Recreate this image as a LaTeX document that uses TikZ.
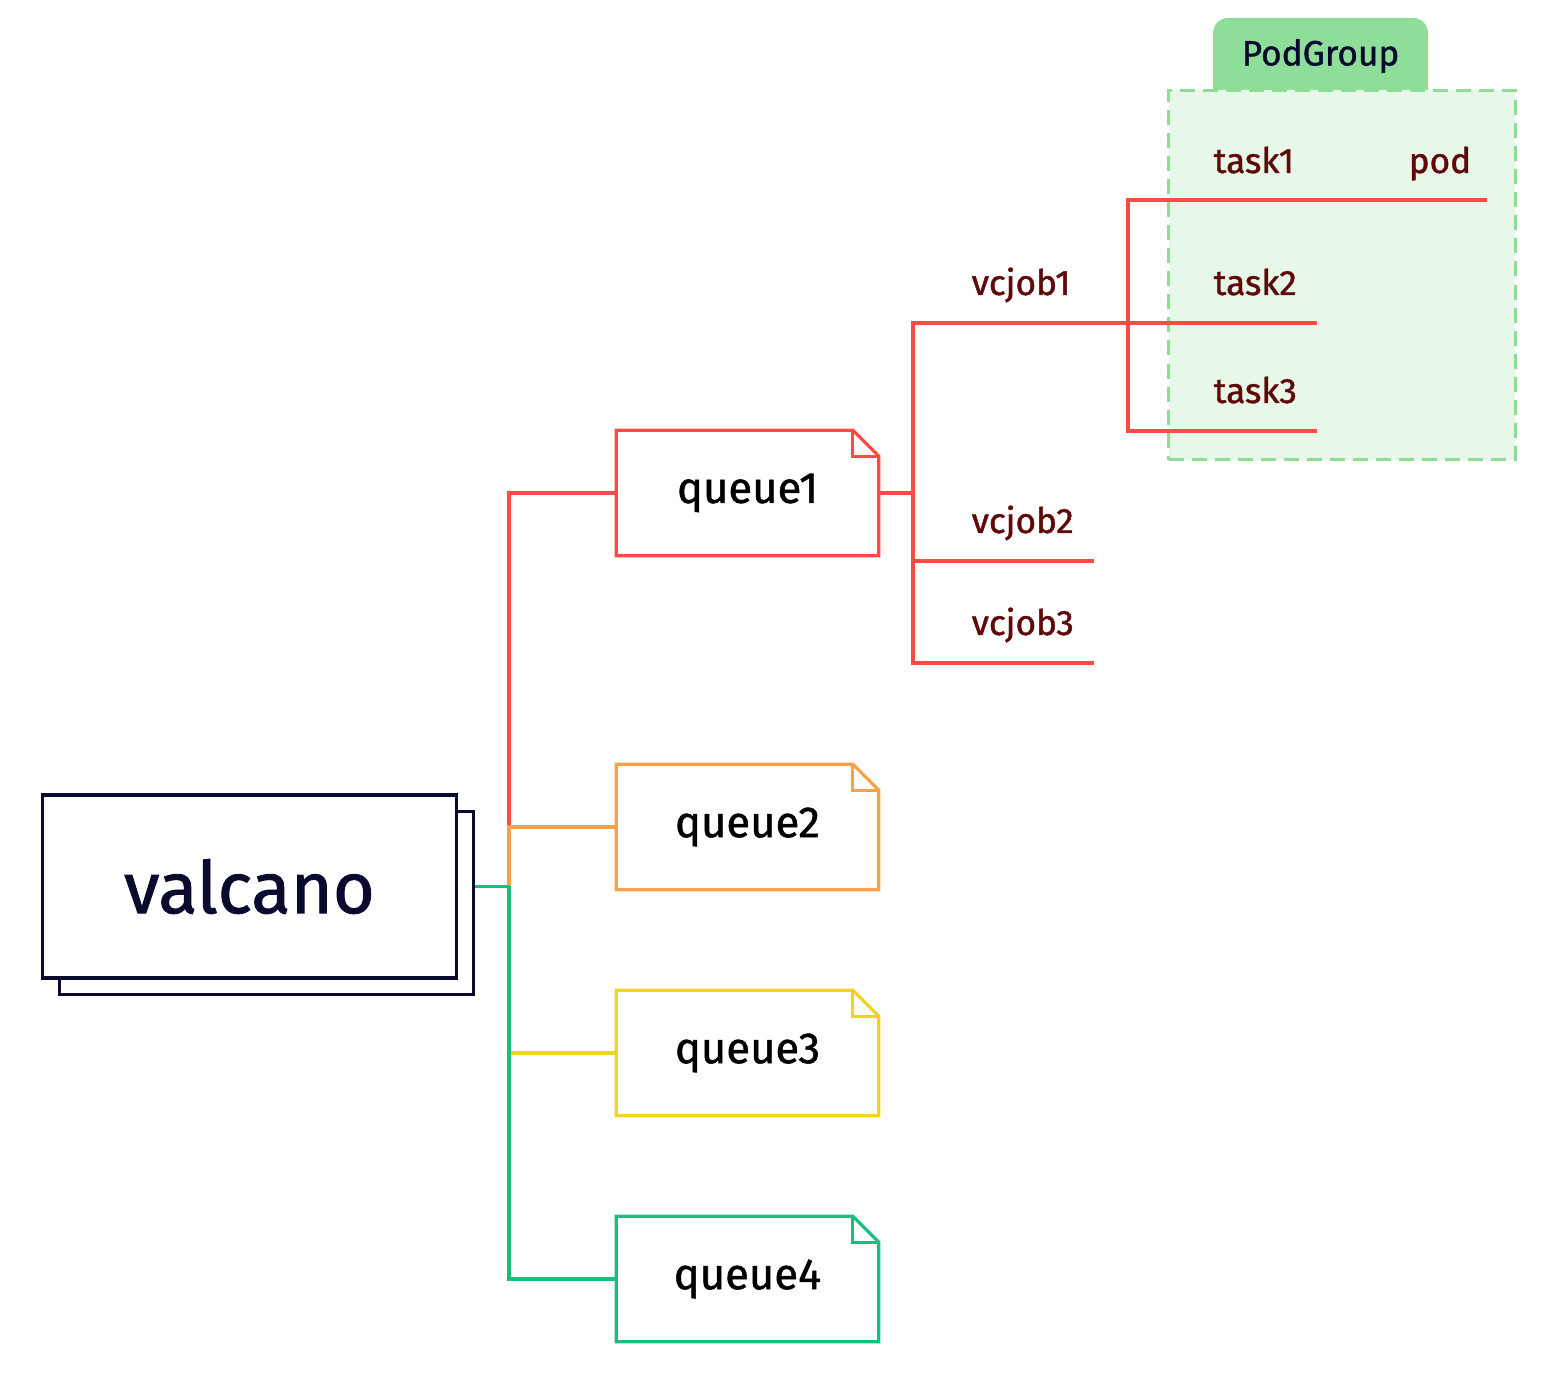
\documentclass[tikz,border=0pt]{standalone}
\usepackage{fontspec}
\setmainfont{Fira Sans}[FakeBold=1.2]
\usepackage{tikz}
\usetikzlibrary{calc}

\definecolor{qred}{HTML}{FF4A45}
\definecolor{qorange}{HTML}{F8A14A}
\definecolor{qyellow}{HTML}{F4D125}
\definecolor{qgreen}{HTML}{16BF7C}
\definecolor{navy}{HTML}{0A0A2E}
\definecolor{labelred}{HTML}{5F0A0A}
\definecolor{tabgreen}{HTML}{8EDE99}
\definecolor{boxgreen}{HTML}{E7F7E8}
\definecolor{dashgreen}{HTML}{8DDC97}

\begin{document}
\begin{tikzpicture}[x=0.01cm, y=-0.01cm,
  link/.style={line width=0.9pt},
  rootbox/.style={draw=navy, line width=0.9pt, fill=white, minimum width=4.13cm, minimum height=1.83cm, inner sep=0pt},
  queuenode/.style={minimum width=2.61cm, minimum height=1.24cm, inner sep=0pt, font=\fontsize{12.4}{14}\selectfont},
  itemlabel/.style={text=labelred, font=\fontsize{10}{12}\selectfont, inner sep=0pt, anchor=base west},
  groupbox/.style={draw=dashgreen, fill=boxgreen, line width=0.9pt, dash pattern=on 0.15cm off 0.08cm, minimum width=3.46cm, minimum height=3.69cm, inner sep=0pt}]
\useasboundingbox (0,0) rectangle (1548,1374);
% pod group
\fill[tabgreen] (1213,90) [rounded corners=0.15cm] -- (1213,18) -- (1428,18) [sharp corners] -- (1428,90) -- cycle;
\node[text=navy, font=\fontsize{10}{12}\selectfont] (podgroup) at (1320.5,56) {PodGroup};
\node[groupbox] (pgbox) at (1342,275) {};
% root
\node[rootbox] (valcanoback) at (266.5,903) {};
\node[rootbox, text=navy, font=\fontsize{20.5}{24}\selectfont] (valcano) at (249.5,886.5) {valcano};
% queues
\node[queuenode] (queue1) at (747.5,493) {queue1};
\node[queuenode] (queue2) at (747.5,827) {queue2};
\node[queuenode] (queue3) at (747.5,1053) {queue3};
\node[queuenode] (queue4) at (747.5,1279) {queue4};
\draw[link, qred] (queue1.south west) -- (queue1.north west) -- ($(queue1.north east)+(-26,0)$) -- ($(queue1.north east)+(0,26)$) -- (queue1.south east) -- cycle;
\draw[link, qred] ($(queue1.north east)+(-26,0)$) -- ++(0,26) -- ++(26,0);
\draw[link, qorange] (queue2.south west) -- (queue2.north west) -- ($(queue2.north east)+(-26,0)$) -- ($(queue2.north east)+(0,26)$) -- (queue2.south east) -- cycle;
\draw[link, qorange] ($(queue2.north east)+(-26,0)$) -- ++(0,26) -- ++(26,0);
\draw[link, qyellow] (queue3.south west) -- (queue3.north west) -- ($(queue3.north east)+(-26,0)$) -- ($(queue3.north east)+(0,26)$) -- (queue3.south east) -- cycle;
\draw[link, qyellow] ($(queue3.north east)+(-26,0)$) -- ++(0,26) -- ++(26,0);
\draw[link, qgreen] (queue4.south west) -- (queue4.north west) -- ($(queue4.north east)+(-26,0)$) -- ($(queue4.north east)+(0,26)$) -- (queue4.south east) -- cycle;
\draw[link, qgreen] ($(queue4.north east)+(-26,0)$) -- ++(0,26) -- ++(26,0);
% root to queues
\coordinate (hub) at (509,886.5);
\draw[link, qred] (hub) |- (queue1.west);
\draw[link, qorange] (hub) |- (queue2.west);
\draw[link, qyellow] (hub) |- (queue3.west);
\draw[link, qgreen] (hub) |- (queue4.west);
\draw[link, qgreen] (valcanoback.east |- valcano.east) -- (hub);
% jobs
\coordinate (jobfork) at (913,493);
\coordinate (job1end) at (1095,323);
\coordinate (job2end) at (1094,561);
\coordinate (job3end) at (1094,663);
\draw[link, qred] (queue1.east) -- (jobfork);
\draw[link, qred] (jobfork) |- (job1end);
\draw[link, qred] (jobfork) |- (job2end);
\draw[link, qred] (jobfork) |- (job3end);
\node[itemlabel] (vcjob1) at (971,295) {vcjob1};
\node[itemlabel] (vcjob2) at (971,533) {vcjob2};
\node[itemlabel] (vcjob3) at (971,635) {vcjob3};
% tasks
\coordinate (taskfork) at (1128,323);
\coordinate (task1end) at (1325,200);
\coordinate (task2end) at (1317,323);
\coordinate (task3end) at (1317,431);
\coordinate (podend) at (1487,200);
\draw[link, qred] (job1end) -- (taskfork);
\draw[link, qred] (taskfork) |- (task1end);
\draw[link, qred] (taskfork) |- (task2end);
\draw[link, qred] (taskfork) |- (task3end);
\draw[link, qred] (task1end) -- (podend);
\node[itemlabel] (task1) at (1213,173) {task1};
\node[itemlabel] (task2) at (1213,295) {task2};
\node[itemlabel] (task3) at (1213,403) {task3};
\node[itemlabel] (pod) at (1408,173) {pod};
\end{tikzpicture}
\end{document}
